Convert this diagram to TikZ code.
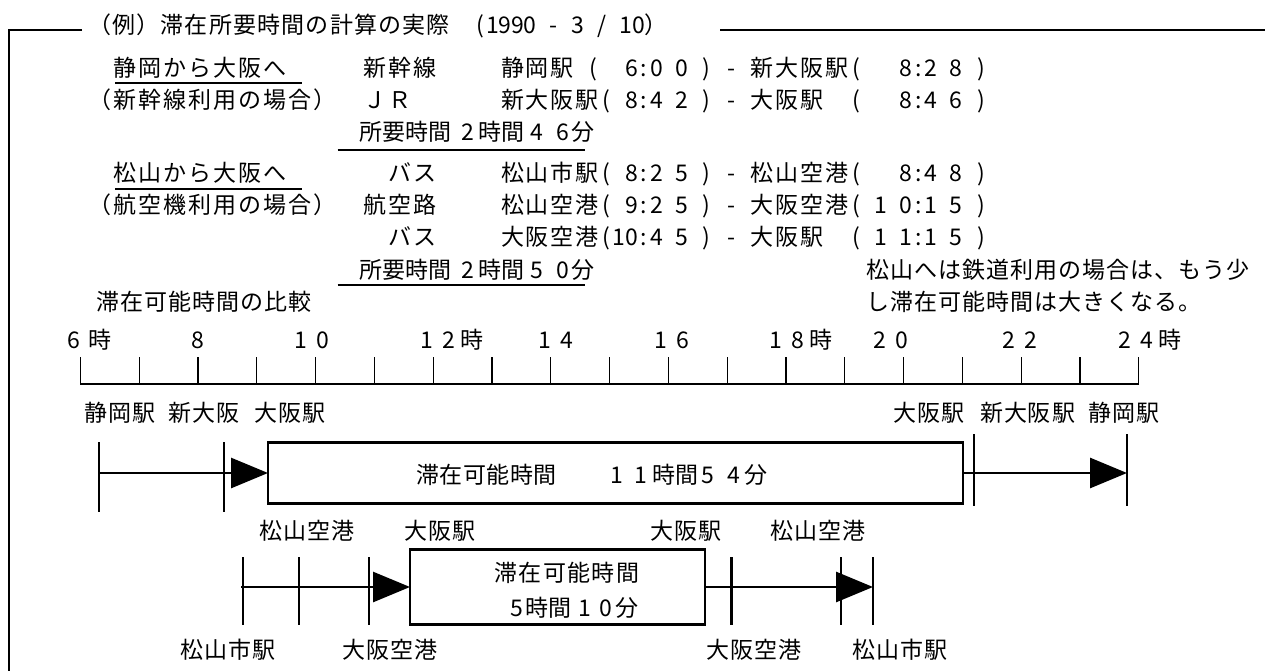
\documentclass[tikz,border=0pt]{standalone}
\usepackage{fontspec}
\setmainfont{Noto Sans CJK JP}
\usetikzlibrary{arrows.meta}
\ExplSyntaxOn
\dim_new:N \l_grid_cell_dim
\cs_new_protected:Npn \grid_char:N #1
  {
    \str_if_eq:nnTF {#1} {_}
      { \skip_horizontal:n { \l_grid_cell_dim } }
      {
        \int_compare:nNnTF { `#1 } > { 255 }
          { \hbox_to_wd:nn { 2\l_grid_cell_dim } { \hfil #1 \hfil } }
          { \hbox_to_wd:nn { \l_grid_cell_dim } { \hfil #1 \hfil } }
      }
  }
\NewDocumentCommand \gridtext { O{12.5pt} m }
  {
    \dim_set:Nn \l_grid_cell_dim {#1}
    \tl_map_function:nN {#2} \grid_char:N
  }
\ExplSyntaxOff
\newcommand\hrlabel[2]{#1\hspace{9.3pt}#2}
\newcommand\dgt[1]{\makebox[12pt]{#1}}
\newcommand\reqtime[2]{所要時間\hspace{10.7pt}\dgt{2}\hspace{4.6pt}時間\hspace{6.7pt}\dgt{#1}\hspace{14pt}\dgt{#2}\hspace{3pt}分}
\begin{document}
\begin{tikzpicture}[x=1pt,y=-1pt,
  every node/.style={inner sep=0pt,outer sep=0pt,font=\fontsize{23pt}{27pt}\selectfont,text height=20pt,text depth=3pt},
  txt/.style={anchor=west},
  framel/.style={line width=2.5pt},
  rulel/.style={line width=1.5pt},
  axisl/.style={line width=1.3pt},
  barl/.style={line width=2.8pt},
  stay/.style={draw,line width=2.8pt},
  arr/.style={barl,-{Triangle[length=37pt,width=30pt]}}]
\useasboundingbox (0,0) rectangle (1265,671);

% frame
\coordinate (fA) at (82,30);
\coordinate (fB) at (9,30);
\coordinate (fC) at (9,672);
\coordinate (fD) at (720,30);
\coordinate (fE) at (1266,30);
\draw[framel] (fA) -- (fB) -- (fC);
\draw[framel] (fD) -- (fE);

% title
\node[txt] (title) at (87.5,25) {\gridtext[12.1pt]{（例）滞在所要時間の計算の実際__(1990_-_3_/_10）}};

% Shizuoka block
\node[txt] (a1l) at (112.5,68) {\gridtext{静岡から大阪へ}};
\node[txt] (a1m) at (362.5,68) {\gridtext{新幹線}};
\node[txt] (a1r) at (500,68) {\gridtext{静岡駅_(__6:0_0_)_-_新大阪駅(___8:2_8_)}};
\node[txt] (a2l) at (87.5,100) {\gridtext{（新幹線利用の場合）}};
\node[txt] (a2m) at (362.5,100) {\gridtext{ＪＲ}};
\node[txt] (a2r) at (500,100) {\gridtext{新大阪駅(_8:4_2_)_-_大阪駅__(___8:4_6_)}};
\node[txt] (a3m) at (359,132) {\reqtime{4}{6}};
\coordinate (ua1) at (115,83);
\coordinate (ua2) at (302,83);
\draw[rulel] (ua1) -- (ua2);
\coordinate (la1) at (337.5,150);
\coordinate (la2) at (585,150);
\draw[rulel] (la1) -- (la2);

% Matsuyama block
\node[txt] (b1l) at (112.5,173) {\gridtext{松山から大阪へ}};
\node[txt] (b1m) at (387.5,173) {\gridtext{バス}};
\node[txt] (b1r) at (500,173) {\gridtext{松山市駅(_8:2_5_)_-_松山空港(___8:4_8_)}};
\node[txt] (b2l) at (87.5,205) {\gridtext{（航空機利用の場合）}};
\node[txt] (b2m) at (362.5,205) {\gridtext{航空路}};
\node[txt] (b2r) at (500,205) {\gridtext{松山空港(_9:2_5_)_-_大阪空港(_1_0:1_5_)}};
\node[txt] (b3m) at (387.5,237) {\gridtext{バス}};
\node[txt] (b3r) at (500,237) {\gridtext{大阪空港(10:4_5_)_-_大阪駅__(_1_1:1_5_)}};
\node[txt] (b4m) at (359,270) {\reqtime{5}{0}};
\node[txt] (b4r) at (866,270) {\gridtext[12pt]{松山へは鉄道利用の場合は、もう少}};
\coordinate (ub1) at (115,189);
\coordinate (ub2) at (302,189);
\draw[rulel] (ub1) -- (ub2);
\coordinate (lb1) at (337.5,285);
\coordinate (lb2) at (585,285);
\draw[rulel] (lb1) -- (lb2);

\node[txt] (cl) at (96,302) {\gridtext[12pt]{滞在可能時間の比較}};
\node[txt] (cr) at (866,302) {\gridtext[12pt]{し滞在可能時間は大きくなる。}};

% axis
\foreach \i in {0,...,18}{
  \coordinate (ax\i) at ({80.4+58.8*\i},357);
  \coordinate (ab\i) at ({80.4+58.8*\i},384);
  \draw[axisl] (ax\i) -- (ab\i);
}
\draw[axisl] (ab0) -- (ab18);
\node[txt] (h6) at (67.5,340) {6\hspace{8pt}時};
\node (h8) at (198,340) {8};
\node[txt] (h10) at (294.6,340) {\hrlabel{1}{0}};
\node[txt] (h12) at (420.6,340) {\hrlabel{1}{2}\hspace{5pt}時};
\node[txt] (h14) at (538.6,340) {\hrlabel{1}{4}};
\node[txt] (h16) at (654.6,340) {\hrlabel{1}{6}};
\node[txt] (h18) at (769.6,340) {\hrlabel{1}{8}\hspace{5pt}時};
\node[txt] (h20) at (873.6,340) {\hrlabel{2}{0}};
\node[txt] (h22) at (1002.6,340) {\hrlabel{2}{2}};
\node[txt] (h24) at (1118.6,340) {\hrlabel{2}{4}\hspace{5pt}時};

% bar 1 (Shizuoka)
\node[txt] (s1) at (84,413) {\gridtext[12pt]{静岡駅}};
\node[txt] (s2) at (168,413) {\gridtext[12pt]{新大阪}};
\node[txt] (s3) at (254,413) {\gridtext[12pt]{大阪駅}};
\node[txt] (s4) at (893,413) {\gridtext[12pt]{大阪駅}};
\node[txt] (s5) at (979.5,413) {\gridtext[12pt]{新大阪駅}};
\node[txt] (s6) at (1088,413) {\gridtext[12pt]{静岡駅}};
\node[stay,minimum width=695pt,minimum height=61pt] (rect1) at (615.5,473) {};
\node[txt] (r1a) at (416,475) {\gridtext[11.75pt]{滞在可能時間}};
\node[txt] (r1b) at (611,475) {\dgt{1}\hspace{12pt}\dgt{1}\hspace{5pt}時間\hspace{4pt}\dgt{5}\hspace{14pt}\dgt{4}\hspace{5pt}分};
\coordinate (p1t) at (99,442);  \coordinate (p1b) at (99,512);  \coordinate (p1m) at (99,473);
\coordinate (p2t) at (224,442); \coordinate (p2b) at (224,512);
\coordinate (p3t) at (974,434); \coordinate (p3b) at (974,506);
\coordinate (p4t) at (1127,434); \coordinate (p4b) at (1127,506); \coordinate (p4m) at (1127,473);
\draw[barl] (p1t) -- (p1b);
\draw[barl] (p2t) -- (p2b);
\draw[barl] (p3t) -- (p3b);
\draw[barl] (p4t) -- (p4b);
\draw[arr] (p1m) -- (rect1.west);
\draw[arr] (rect1.east) -- (p4m);

% bar 2 (Matsuyama)
\node[txt] (m1) at (259,531) {\gridtext[12pt]{松山空港}};
\node[txt] (m2) at (404,531) {\gridtext[12pt]{大阪駅}};
\node[txt] (m3) at (650,531) {\gridtext[12pt]{大阪駅}};
\node[txt] (m4) at (770,531) {\gridtext[12pt]{松山空港}};
\node[txt] (m5) at (180,650) {\gridtext[12pt]{松山市駅}};
\node[txt] (m6) at (342,650) {\gridtext[12pt]{大阪空港}};
\node[txt] (m7) at (706,650) {\gridtext[12pt]{大阪空港}};
\node[txt] (m8) at (852,650) {\gridtext[12pt]{松山市駅}};
\node[stay,minimum width=295pt,minimum height=75pt] (rect2) at (557.5,587) {};
\node[txt] (r2a) at (494,573) {\gridtext[12.15pt]{滞在可能時間}};
\node[txt] (r2b) at (511,608) {\dgt{5}\hspace{3pt}時間\hspace{7pt}\dgt{1}\hspace{9pt}\dgt{0}\hspace{4pt}分};
\coordinate (q1t) at (243,557); \coordinate (q1b) at (243,625); \coordinate (q1m) at (241,587);
\coordinate (q2t) at (299,557); \coordinate (q2b) at (299,625);
\coordinate (q3t) at (369,557); \coordinate (q3b) at (369,625);
\coordinate (q4t) at (731.5,557); \coordinate (q4b) at (731.5,625);
\coordinate (q5t) at (841,557); \coordinate (q5b) at (841,625);
\coordinate (q6t) at (873,557); \coordinate (q6b) at (873,625); \coordinate (q6m) at (873,587);
\foreach \k in {1,...,6}{\draw[barl] (q\k t) -- (q\k b);}
\draw[arr] (q1m) -- (rect2.west);
\draw[arr] (rect2.east) -- (q6m);
\end{tikzpicture}
\end{document}
